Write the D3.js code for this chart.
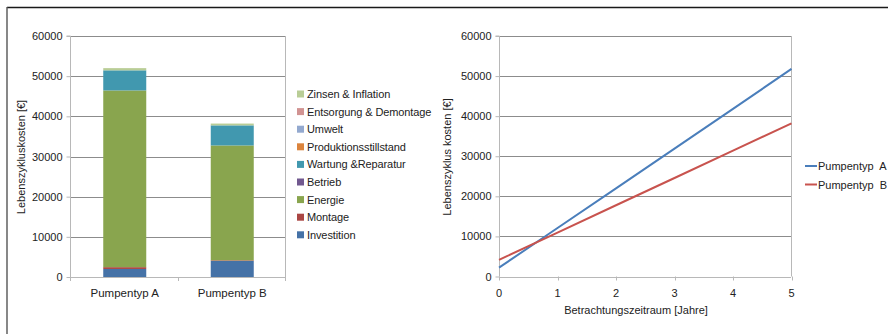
<!DOCTYPE html>
<html>
<head>
<meta charset="utf-8">
<script src="https://cdn.jsdelivr.net/npm/d3@7"></script>
<style>
  html, body { margin: 0; padding: 0; background: #fff; }
  svg { display: block; font-family: "Liberation Sans", Arial, sans-serif; }
</style>
</head>
<body>
<svg id="chart" width="888" height="334"></svg>
<script>
// Lebenszykluskosten: stacked cost components per pump type
const pumps = ["Pumpentyp A", "Pumpentyp B"];
const components = ["Investition", "Montage", "Energie", "Betrieb", "Wartung &Reparatur",
  "Produktionsstillstand", "Umwelt", "Entsorgung & Demontage", "Zinsen & Inflation"];
const componentColors = ["#4572A7", "#AA4643", "#89A54E", "#71588F", "#4198AF",
  "#DB843D", "#93A9CF", "#D19392", "#B9CD96"];
const costsA = [2000, 450, 44000, 0, 5000, 0, 0, 0, 550];
const costsB = [4000, 150, 28600, 0, 5000, 0, 0, 0, 450];

// Cumulative cost over the observation period
const years = [0, 1, 2, 3, 4, 5];
const cumulativeA = [2200, 12100, 22000, 31900, 41800, 51800];
const cumulativeB = [4150, 10960, 17770, 24580, 31390, 38200];
const lineSeries = ["Pumpentyp  A", "Pumpentyp  B"];
const lineColors = ["#4A7EBB", "#C8534E"];

const yTicks = [0, 10000, 20000, 30000, 40000, 50000, 60000];

const svg = d3.select("#chart");
const gridColor = "#8c8c8c";
const axisColor = "#b8b8b8";
const textColor = "#222";

// outer frame
svg.append("line").attr("x1", 7).attr("x2", 888).attr("y1", 7.5).attr("y2", 7.5)
  .attr("stroke", "#1a1a1a").attr("stroke-width", 1.6);
svg.append("line").attr("x1", 7).attr("x2", 7).attr("y1", 7).attr("y2", 334)
  .attr("stroke", "#555").attr("stroke-width", 1.4);

function drawYAxis(g, y, x0, x1) {
  g.selectAll(".grid").data(yTicks.slice(1)).join("line")
    .attr("x1", x0).attr("x2", x1)
    .attr("y1", d => Math.round(y(d)) + 0.5).attr("y2", d => Math.round(y(d)) + 0.5)
    .attr("stroke", gridColor).attr("stroke-width", 1);
  const ax = g.append("g").attr("transform", `translate(${x0 + 0.5},0)`)
    .call(d3.axisLeft(y).tickValues(yTicks).tickFormat(d3.format("d")).tickSize(4).tickPadding(4));
  ax.select(".domain").attr("stroke", axisColor).attr("d", `M-4,${y(60000)}H0V${y(0)}`);
  ax.selectAll(".tick line").attr("stroke", axisColor);
  ax.selectAll(".tick text").attr("fill", textColor).attr("font-size", 11);
  // right border of plot area
  g.append("line").attr("x1", x1 + 0.5).attr("x2", x1 + 0.5).attr("y1", y(60000)).attr("y2", y(0))
    .attr("stroke", axisColor);
}

// ---------- left: stacked bars ----------
const left = svg.append("g");
const xBand = d3.scaleBand().domain(pumps).range([71, 286]).paddingInner(0.6).paddingOuter(0.3);
const yL = d3.scaleLinear().domain([0, 60000]).range([277, 36]);
drawYAxis(left, yL, 70, 285);

const stackRows = pumps.map((p, i) => {
  const vals = i === 0 ? costsA : costsB;
  const row = { pump: p };
  components.forEach((c, j) => row[c] = vals[j]);
  return row;
});
const stacked = d3.stack().keys(components)(stackRows);
left.append("g").selectAll("g").data(stacked).join("g")
  .attr("fill", (d, i) => componentColors[i])
  .selectAll("rect").data(d => d).join("rect")
  .attr("x", d => xBand(d.data.pump))
  .attr("width", xBand.bandwidth())
  .attr("y", d => yL(d[1]))
  .attr("height", d => yL(d[0]) - yL(d[1]));

// x axis (category)
left.append("line").attr("x1", 70).attr("x2", 285).attr("y1", Math.round(yL(0)) + 0.5).attr("y2", Math.round(yL(0)) + 0.5)
  .attr("stroke", axisColor);
[70, 177.5, 285].forEach(x => left.append("line")
  .attr("x1", Math.round(x) + 0.5).attr("x2", Math.round(x) + 0.5)
  .attr("y1", yL(0)).attr("y2", yL(0) + 4).attr("stroke", axisColor));
left.selectAll(".cat").data(pumps).join("text")
  .attr("x", d => xBand(d) + xBand.bandwidth() / 2).attr("y", 297)
  .attr("text-anchor", "middle").attr("font-size", 11.5).attr("fill", textColor).text(d => d);

left.append("text").attr("transform", "translate(25,157) rotate(-90)")
  .attr("text-anchor", "middle").attr("font-size", 11).attr("fill", textColor)
  .text("Lebenszykluskosten [€]");

// legend (reverse order: top = last component)
const legL = svg.append("g");
const legendItems = components.map((c, i) => ({ name: c, color: componentColors[i] })).reverse();
legendItems.forEach((d, i) => {
  const y = 94 + i * 17.6;
  legL.append("rect").attr("x", 297).attr("y", y - 3.5).attr("width", 7).attr("height", 7).attr("fill", d.color);
  legL.append("text").attr("x", 307).attr("y", y + 4).attr("font-size", 11).attr("fill", textColor)
    .attr("letter-spacing", -0.1).text(d.name);
});

// ---------- right: cumulative lines ----------
const right = svg.append("g");
const xL = d3.scaleLinear().domain([0, 5]).range([499, 791.5]);
const yR = d3.scaleLinear().domain([0, 60000]).range([276.5, 36]);
drawYAxis(right, yR, 499, 791);

right.append("line").attr("x1", 499).attr("x2", 791).attr("y1", Math.round(yR(0)) + 0.5).attr("y2", Math.round(yR(0)) + 0.5)
  .attr("stroke", axisColor);
years.forEach(t => right.append("line")
  .attr("x1", Math.round(xL(t)) + 0.5).attr("x2", Math.round(xL(t)) + 0.5)
  .attr("y1", yR(0)).attr("y2", yR(0) + 4).attr("stroke", axisColor));
right.selectAll(".yr").data(years).join("text")
  .attr("x", d => xL(d)).attr("y", 297).attr("text-anchor", "middle")
  .attr("font-size", 11).attr("fill", textColor).text(d => d);

const line = d3.line().x(d => xL(d[0])).y(d => yR(d[1]));
[cumulativeA, cumulativeB].forEach((vals, i) => {
  right.append("path").datum(years.map((t, k) => [t, vals[k]]))
    .attr("d", line).attr("fill", "none").attr("stroke", lineColors[i]).attr("stroke-width", 2);
});

right.append("text").attr("transform", "translate(451,157) rotate(-90)")
  .attr("text-anchor", "middle").attr("font-size", 11).attr("fill", textColor)
  .text("Lebenszyklus kosten [€]");
right.append("text").attr("x", 636).attr("y", 314).attr("text-anchor", "middle")
  .attr("font-size", 11).attr("fill", textColor).text("Betrachtungszeitraum [Jahre]");

lineSeries.forEach((name, i) => {
  const y = 166 + i * 18.5;
  svg.append("line").attr("x1", 805).attr("x2", 817).attr("y1", y).attr("y2", y)
    .attr("stroke", lineColors[i]).attr("stroke-width", 2);
  svg.append("text").attr("x", 818).attr("y", y + 4).attr("font-size", 11).attr("fill", textColor)
    .attr("xml:space", "preserve").style("white-space", "pre").text(name);
});
</script>
</body>
</html>
